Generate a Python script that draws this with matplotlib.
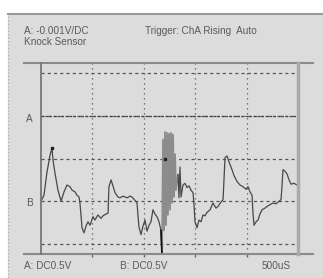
import matplotlib
matplotlib.use("Agg")
import matplotlib.pyplot as plt
from matplotlib.lines import Line2D

# oscilloscope trace, channel A (time in uS, voltage in V, 0.5 V/div, 500 uS/div)
time_us = [0, 29, 58, 88, 107, 117, 136, 165, 195, 224, 253, 282, 302, 331, 350, 370,
           379, 389, 399, 418, 438, 457, 477, 506, 525, 554, 584, 603, 632, 652, 661,
           681, 700, 720, 749, 768, 798, 837, 866, 885, 914, 934, 943, 953, 973, 992,
           1012, 1031, 1051, 1070, 1089, 1109, 1128, 1148, 1167, 1177, 1187, 1197, 1206,
           1216, 1226, 1235, 1245, 1255, 1265, 1274, 1284, 1294, 1304, 1313, 1333, 1342,
           1352, 1362, 1381, 1401, 1420, 1440, 1459, 1479, 1488, 1498, 1518, 1537, 1557,
           1576, 1595, 1615, 1644, 1673, 1702, 1722, 1751, 1771, 1780, 1790, 1809, 1829,
           1858, 1878, 1907, 1936, 1965, 1994, 2014, 2033, 2053, 2062, 2072, 2092, 2111,
           2130, 2150, 2179, 2199, 2228, 2257, 2286, 2315, 2335, 2345, 2354, 2374, 2393,
           2413, 2432, 2461, 2491, 2500]
volts = [0.00, 0.07, 0.34, 0.54, 0.62, 0.48, 0.33, 0.13, 0.00, 0.11, 0.19, 0.17, 0.13,
         0.11, 0.07, 0.05, -0.02, -0.16, -0.31, -0.37, -0.29, -0.24, -0.28, -0.18, -0.22,
         -0.16, -0.20, -0.17, -0.15, -0.14, 0.17, 0.25, 0.18, 0.10, 0.05, 0.04, 0.06,
         0.04, 0.06, 0.05, 0.01, -0.02, -0.16, -0.30, -0.39, -0.29, -0.22, -0.35, -0.28,
         -0.24, -0.10, -0.15, -0.18, -0.24, -0.34, -0.63, 0.72, -0.34, 0.81, -0.28, 0.80,
         -0.16, 0.79, -0.10, 0.80, -0.02, 0.78, 0.05, 0.55, 0.13, 0.31, 0.04, 0.40, 0.05,
         0.19, 0.21, 0.16, 0.18, 0.13, 0.10, -0.04, -0.24, -0.31, -0.22, -0.24, -0.16,
         -0.17, -0.13, -0.10, -0.02, -0.08, -0.06, -0.01, 0.02, 0.25, 0.51, 0.53, 0.46,
         0.37, 0.30, 0.23, 0.19, 0.17, 0.14, 0.17, 0.11, 0.07, -0.14, -0.28, -0.24, -0.22,
         -0.15, -0.10, -0.08, -0.06, -0.04, -0.02, -0.03, 0.00, 0.02, 0.19, 0.37, 0.35,
         0.32, 0.25, 0.20, 0.21, 0.19, 0.20]
burst_start, burst_end = 55, 70   # knock burst, drawn lighter like the screen smear

x_grid = [500, 1000, 1500, 2000]
y_grid = [-0.5, 0.0, 0.5, 1.0, 1.5]
marker_a = 1.0
marker_b = 0.0

header_left = "A: -0.001V/DC"
header_right = "Trigger: ChA Rising  Auto"
title = "Knock Sensor"
footer = ["A: DC0.5V", "B: DC0.5V", "500uS"]

W, H = 323, 278
fig = plt.figure(figsize=(W / 100, H / 100), dpi=100)
fig.patch.set_facecolor("white")

def fx(px):
    return px / W

def fy(py):
    return 1 - py / H

# gray panel of the scope window (behind everything)
panel = plt.Rectangle((fx(8), 0), 1 - fx(8), fy(14), transform=fig.transFigure,
                      facecolor="#dcdcdc", edgecolor="none", zorder=-10)
fig.add_artist(panel)
fig.add_artist(Line2D([fx(8), 1], [fy(14), fy(14)], color="#9a9a9a", lw=1.5))
fig.add_artist(Line2D([fx(8), fx(8)], [0, fy(14)], color="#b0b0b0", lw=1, ls=(0, (1, 1.5))))

ax = fig.add_axes([fx(41), fy(254), fx(298) - fx(41), fy(63) - fy(254)])
ax.set_facecolor("#dcdcdc")
ax.set_xlim(0, 2500)
ax.set_ylim(-0.617, 1.617)
for s in ax.spines.values():
    s.set_visible(False)
ax.set_xticks(x_grid)
ax.set_xticklabels([])
ax.tick_params(axis="x", length=2.5, width=1, color="#666666", direction="out")
ax.set_yticks([])

for x in x_grid:
    ax.axvline(x, color="#555555", lw=0.9, ls=(0, (1, 3)))
for y in y_grid:
    ax.axhline(y, color="#555555", lw=0.9, ls=(0, (2.5, 2.5)))
ax.axhline(marker_a, color="#444444", lw=0.9, ls=(0, (2, 1.2)))

ax.plot(time_us[:burst_start + 1], volts[:burst_start + 1], color="#484848", lw=0.9)
ax.plot(time_us[burst_start:burst_end + 1], volts[burst_start:burst_end + 1],
        color="#8c8c8c", lw=1.3)
ax.plot(time_us[burst_end:], volts[burst_end:], color="#484848", lw=0.9)
ax.plot(time_us[burst_start - 1:burst_start + 1], volts[burst_start - 1:burst_start + 1],
        color="#111111", lw=1.2)
ax.plot([107, 1206], [0.62, 0.5], "s", color="#222222", ms=1.8, ls="none")

# frame lines
fig.add_artist(Line2D([fx(24), fx(313)], [fy(63), fy(63)], color="#8a8a8a", lw=1.5))
fig.add_artist(Line2D([fx(24), fx(313)], [fy(254), fy(254)], color="#8a8a8a", lw=1.5))
fig.add_artist(Line2D([fx(41), fx(41)], [fy(63), fy(254)], color="#6e7a74", lw=1.3))
fig.add_artist(Line2D([fx(298), fx(298)], [fy(63), fy(254)], color="#aaaaaa", lw=2.5))

txt = dict(fontsize=7.2, color="#5a5a5a", family="Liberation Sans", va="center")
fig.text(fx(24), fy(31), header_left, **txt)
fig.text(fx(145), fy(31), header_right, **txt)
fig.text(fx(24), fy(42), title, **txt)
fig.text(fx(26), fy(119), "A", **txt)
fig.text(fx(26), fy(203), "B", **txt)
fig.text(fx(24), fy(266), footer[0], **txt)
fig.text(fx(120), fy(266), footer[1], **txt)
fig.text(fx(262), fy(266), footer[2], **txt)

fig.savefig("out.png", dpi=100, facecolor=fig.get_facecolor())
